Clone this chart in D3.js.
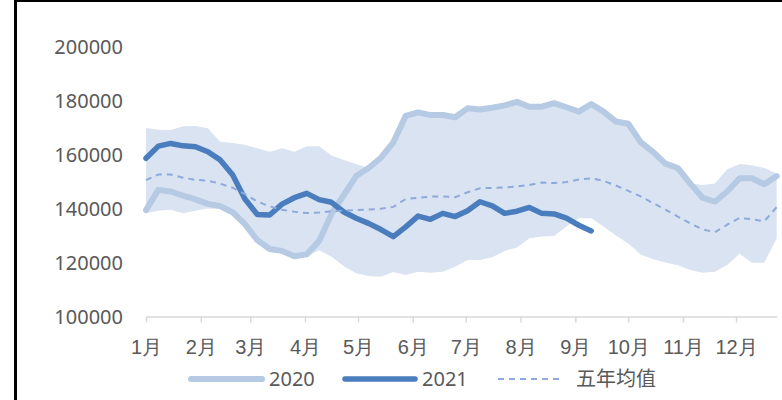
<!DOCTYPE html>
<html>
<head>
<meta charset="utf-8">
<script src="https://cdn.jsdelivr.net/npm/d3@7"></script>
<style>
  body { margin: 0; background: #fff; }
  svg { display: block; font-family: "Noto Sans", "Noto Sans CJK SC", sans-serif; }
</style>
</head>
<body>
<div id="chart"></div>
<script>
// weekly values, first week starts Jan 1
const monthLabels = ["1月","2月","3月","4月","5月","6月","7月","8月","9月","10月","11月","12月"];
const yTicks = [100000, 120000, 140000, 160000, 180000, 200000];

const rangeHigh = [169800,169200,169100,170500,170600,169700,164700,164300,163600,162300,
	161000,162300,161000,163100,163100,159600,158000,156500,155000,158800,
	164500,174300,175600,174600,174600,173800,177100,176700,177300,178200,
	179500,177700,177700,179000,177500,175900,178700,175900,172200,171400,
	164600,161000,156600,155000,149300,148700,149300,154500,156500,156000,
	155000,153000];
const rangeLow = [138300,139200,139500,138200,139200,140000,139800,137800,133500,127500,
	124200,123600,121600,122300,124500,122100,118600,116000,115000,114700,
	116500,115400,116600,116200,116600,118400,120900,120900,121900,124300,
	125600,129000,129600,129800,133300,136400,136400,133300,130000,127000,
	123000,121200,120000,119000,117200,116200,116600,119100,123200,119900,
	119900,129000];
const s2020 = [139400,146900,146300,144800,143400,141700,140900,138600,134200,128300,
	125000,124300,122300,123000,128000,138000,145000,152000,155000,158800,
	164500,174300,175600,174600,174600,173800,177100,176700,177300,178200,
	179500,177700,177700,179000,177500,175900,178700,175900,172200,171400,
	164600,161000,156600,155000,149300,144000,142500,146300,151200,151200,
	149000,152000];
const s2021 = [158600,163100,164100,163200,162900,161000,158000,152500,143500,137800,
	137600,141600,144000,145600,143300,142300,138700,136400,134500,132200,
	129600,133200,137200,136000,138200,137000,139200,142500,141000,138200,
	139000,140400,138200,138000,136400,133800,131700];
const avg5 = [150500,152600,152600,151400,150600,150300,149200,147700,145300,142600,
	140800,139500,138800,138300,138500,139000,139200,139400,139600,139900,
	140600,143500,144000,144400,144500,144200,146000,147500,147600,147800,
	148200,148700,149600,149400,149800,150700,151200,150200,148500,146500,
	144500,142000,139600,137000,134500,132300,131200,134000,136500,136000,
	135300,140500];

const W = 782, H = 400;
const start = new Date(2021, 0, 1);
const weekDate = i => d3.timeDay.offset(start, i * 7);

const x = d3.scaleTime()
	.domain([start, weekDate(51)])
	.range([146, 776.7]);
const y = d3.scaleLinear()
	.domain([100000, 200000])
	.range([316.5, 46.5]);

const svg = d3.select("#chart").append("svg")
	.attr("width", W)
	.attr("height", H);

// frame edges
svg.append("rect").attr("x", 14).attr("y", 0).attr("width", 3).attr("height", H).attr("fill", "#000");
svg.append("rect").attr("x", 14).attr("y", 0).attr("width", W - 14).attr("height", 2).attr("fill", "#000");

// range band
const band = d3.area()
	.x((d, i) => x(weekDate(i)))
	.y0((d, i) => y(rangeLow[i]))
	.y1(d => y(d));
svg.append("path")
	.datum(rangeHigh)
	.attr("d", band)
	.attr("fill", "#dae3f1");

// x axis
const monthStarts = d3.range(12).map(m => new Date(2021, m, 1));
const xAxis = svg.append("g")
	.attr("transform", "translate(0,316.5)")
	.call(d3.axisBottom(x).tickValues(monthStarts).tickSize(6).tickSizeOuter(0)
		.tickFormat((d, i) => monthLabels[i]));
xAxis.select(".domain").attr("stroke", "#d9d9d9").attr("stroke-width", 1.5);
xAxis.selectAll(".tick line").attr("stroke", "#d9d9d9").attr("stroke-width", 1.5);
xAxis.selectAll(".tick text")
	.attr("y", 30)
	.attr("dy", "0.35em")
	.attr("fill", "#595959")
	.style("font-size", "20px");

// y labels
svg.append("g").selectAll("text")
	.data(yTicks)
	.join("text")
	.attr("x", 123)
	.attr("y", d => y(d))
	.attr("dy", "0.35em")
	.attr("text-anchor", "end")
	.attr("fill", "#595959")
	.style("font-size", "20px")
	.text(d => d);

const line = d3.line()
	.x((d, i) => x(weekDate(i)))
	.y(d => y(d));

svg.append("path")
	.datum(s2020)
	.attr("d", line)
	.attr("fill", "none")
	.attr("stroke", "#b6cae4")
	.attr("stroke-width", 6)
	.attr("stroke-linejoin", "round")
	.attr("stroke-linecap", "round");

svg.append("path")
	.datum(s2021)
	.attr("d", line)
	.attr("fill", "none")
	.attr("stroke", "#4a7dbd")
	.attr("stroke-width", 5.5)
	.attr("stroke-linejoin", "round")
	.attr("stroke-linecap", "round");

svg.append("path")
	.datum(avg5)
	.attr("d", line)
	.attr("fill", "none")
	.attr("stroke", "#8eaadb")
	.attr("stroke-width", 2)
	.attr("stroke-dasharray", "6,5");

// legend
const legend = [
	{name: "2020", x1: 191, x2: 262, color: "#b6cae4", w: 6, dash: null, tx: 269},
	{name: "2021", x1: 345, x2: 415, color: "#4a7dbd", w: 5.5, dash: null, tx: 422},
	{name: "五年均值", x1: 498, x2: 562, color: "#8eaadb", w: 2, dash: "6,5", tx: 576}
];
const lg = svg.append("g").attr("transform", "translate(0,379)");
lg.selectAll("line")
	.data(legend)
	.join("line")
	.attr("x1", d => d.x1)
	.attr("x2", d => d.x2)
	.attr("stroke", d => d.color)
	.attr("stroke-width", d => d.w)
	.attr("stroke-linecap", d => d.dash ? "butt" : "round")
	.attr("stroke-dasharray", d => d.dash);
lg.selectAll("text")
	.data(legend)
	.join("text")
	.attr("x", d => d.tx)
	.attr("dy", "0.35em")
	.attr("fill", "#595959")
	.style("font-size", "20px")
	.text(d => d.name);
</script>
</body>
</html>
